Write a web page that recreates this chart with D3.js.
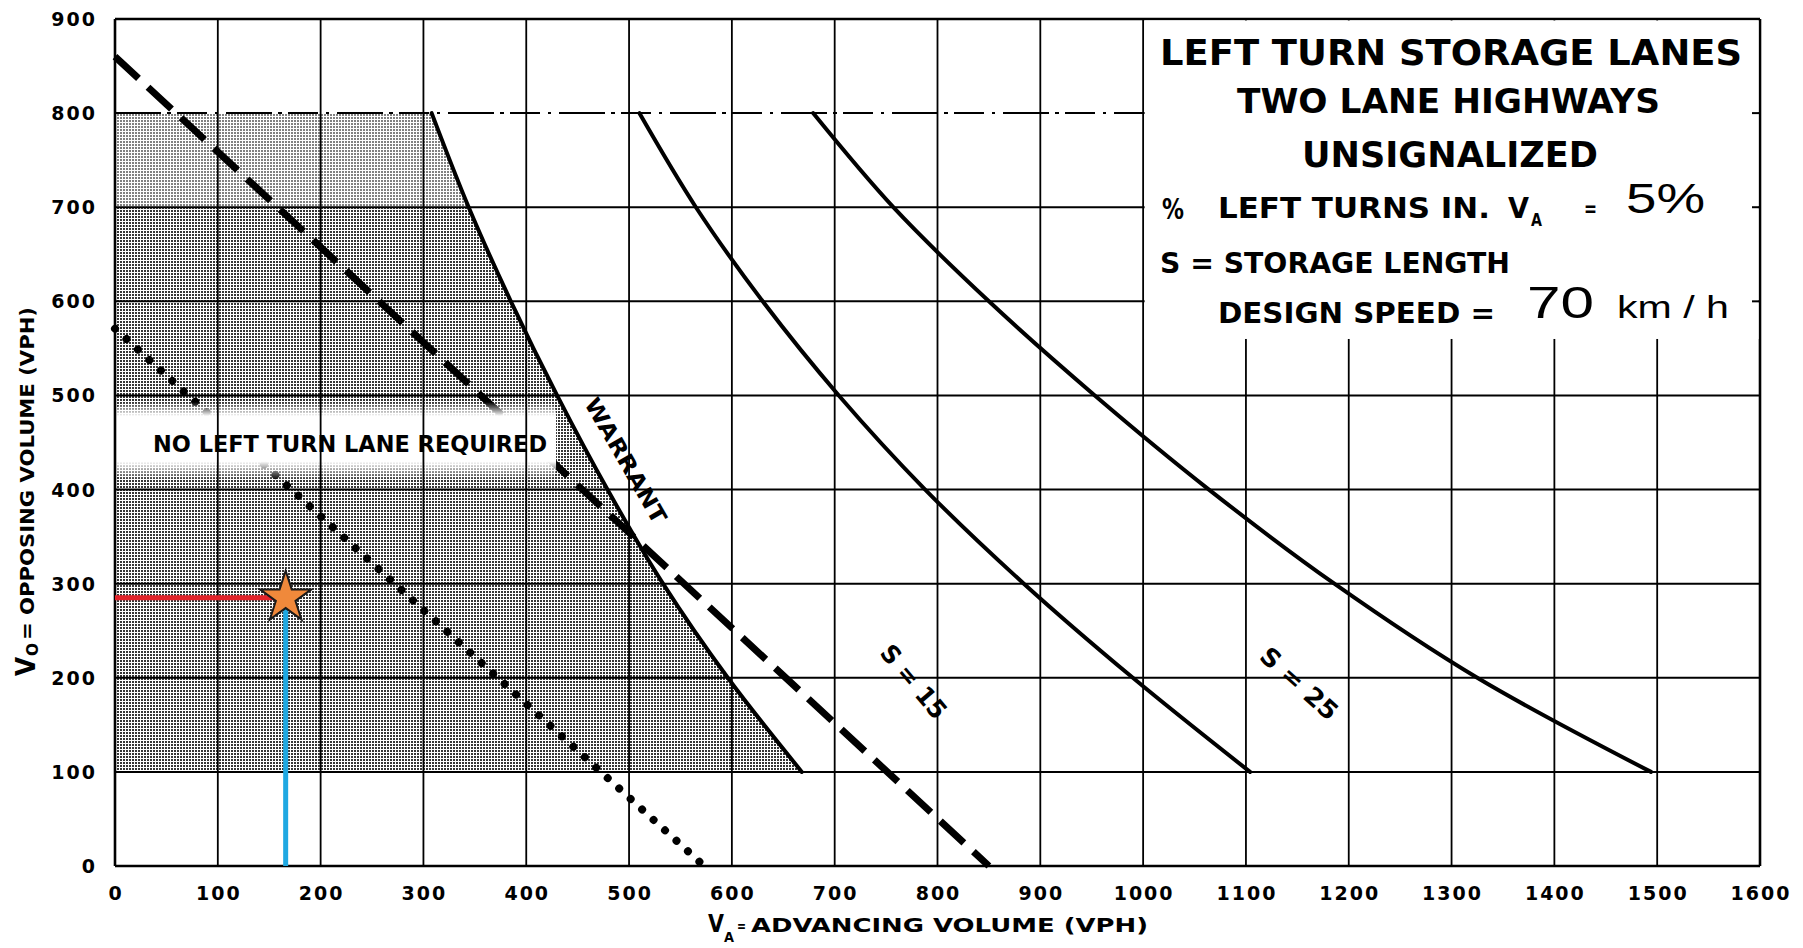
<!DOCTYPE html>
<html>
<head>
<meta charset="utf-8">
<title>Left Turn Storage Lanes – Two Lane Highways</title>
<script src="https://cdn.jsdelivr.net/npm/d3@7"></script>
<style>
  html, body { margin: 0; padding: 0; background: #fff; }
  svg { display: block; }
</style>
</head>
<body>
<svg id="chart" width="1803" height="948"></svg>
<script>
// ---- data -------------------------------------------------------------
const advancingTicks = [0, 100, 200, 300, 400, 500, 600, 700, 800, 900, 1000, 1100, 1200, 1300, 1400, 1500, 1600];
const opposingTicks  = [0, 100, 200, 300, 400, 500, 600, 700, 800, 900];

// [V_A, V_O] pairs, ordered from the top of the chart downwards
const warrantCurve   = [[308, 800], [344, 700], [385, 600], [430, 500], [479, 400], [533, 300], [596, 200], [668, 100]];
const storage15Curve = [[510, 800], [565, 700], [630, 600], [704, 500], [788, 400], [884, 300], [990, 200], [1104, 100]];
const storage25Curve = [[679, 800], [757, 700], [850, 600], [953, 500], [1064, 400], [1186, 300], [1325, 200], [1494, 100]];
const dashedGuide    = [[0, 860], [850, 0]];
const dottedGuide    = [[0, 571], [573, 0]];

const shadedRange  = [100, 800];   // V_O limits of the shaded area
const lighterRange = [700, 800];   // paler screen at the top of the shading
const clearBand    = { vaMax: 428, voLow: 410, voLowSolid: 430, voHighSolid: 478, voHigh: 493 };
const infoBox      = { vaMin: 1000, voMin: 560 };

const designPoint  = { va: 166, vo: 285 };

const titleLines   = ["LEFT TURN STORAGE LANES", "TWO LANE HIGHWAYS", "UNSIGNALIZED"];
const leftTurnPct  = "5%";
const designSpeed  = "70";

// ---- setup ------------------------------------------------------------
const svg = d3.select("#chart");
const LETTER = "'DejaVu Sans', 'Liberation Sans', sans-serif";
const PLAIN  = "'Liberation Sans', Arial, sans-serif";

const x = d3.scaleLinear().domain([0, 1600]).range([115, 1760]);
const y = d3.scaleLinear().domain([0, 900]).range([866, 19]);

svg.append("rect").attr("width", 1803).attr("height", 948).attr("fill", "#fff");

const defs = svg.append("defs");
const pat = defs.append("pattern").attr("id", "screen")
  .attr("patternUnits", "userSpaceOnUse").attr("width", 3).attr("height", 3);
pat.append("rect").attr("width", 3).attr("height", 3).attr("fill", "#fff");
pat.append("rect").attr("width", 2).attr("height", 2).attr("fill", "#363636");

// soft-edged clear strip behind the "no left turn lane" note
const bandTop = y(clearBand.voHigh), bandBot = y(clearBand.voLow);
const bandGrad = defs.append("linearGradient").attr("id", "bandFade")
  .attr("x1", 0).attr("y1", 0).attr("x2", 0).attr("y2", 1);
const stopAt = v => (y(v) - bandTop) / (bandBot - bandTop);
[[0, 0], [stopAt(clearBand.voHighSolid), 1], [stopAt(clearBand.voLowSolid), 1], [1, 0]]
  .forEach(([o, a]) => bandGrad.append("stop").attr("offset", o).attr("stop-color", "#fff").attr("stop-opacity", a));

// ---- shaded warrant region -------------------------------------------
const smooth = d3.curveCatmullRom.alpha(0.5);
const region = d3.area()
  .y(d => y(d[1]))
  .x0(x(0))
  .x1(d => x(d[0]))
  .curve(smooth);

defs.append("clipPath").attr("id", "regionClip")
  .append("path").attr("d", region(warrantCurve));

svg.append("path").attr("d", region(warrantCurve)).attr("fill", "url(#screen)");

svg.append("rect")
  .attr("clip-path", "url(#regionClip)")
  .attr("x", x(0)).attr("y", y(lighterRange[1]))
  .attr("width", x(800) - x(0)).attr("height", y(lighterRange[0]) - y(lighterRange[1]))
  .attr("fill", "#fff").attr("opacity", 0.38);

// ---- guide lines ------------------------------------------------------
const straight = d3.line().x(d => x(d[0])).y(d => y(d[1]));

svg.append("path").attr("d", straight(dashedGuide))
  .attr("fill", "none").attr("stroke", "#000").attr("stroke-width", 7)
  .attr("stroke-dasharray", "32 13");

svg.append("path").attr("d", straight(dottedGuide))
  .attr("fill", "none").attr("stroke", "#000").attr("stroke-width", 8)
  .attr("stroke-linecap", "round").attr("stroke-dasharray", "0.01 15.5");

svg.append("rect")
  .attr("x", x(0) + 1).attr("y", bandTop)
  .attr("width", x(clearBand.vaMax) - x(0)).attr("height", bandBot - bandTop)
  .attr("rx", 10)
  .attr("fill", "url(#bandFade)");

// ---- grid -------------------------------------------------------------
const grid = svg.append("g").attr("stroke", "#000").attr("fill", "none");

grid.selectAll("line.v").data(advancingTicks).join("line")
  .attr("class", "v")
  .attr("x1", d => x(d)).attr("x2", d => x(d))
  .attr("y1", y(0)).attr("y2", y(900))
  .attr("stroke-width", d => (d === 0 || d === 1600) ? 2.6 : 1.8);

grid.selectAll("line.h").data(opposingTicks).join("line")
  .attr("class", "h")
  .attr("x1", x(0)).attr("x2", x(1600))
  .attr("y1", d => y(d)).attr("y2", d => y(d))
  .attr("stroke-width", d => (d === 0 || d === 900) ? 2.6 : 2)
  .attr("stroke-dasharray", d => d === 800 ? "46 6 4 6 30 8 3 8" : null);

// ---- curves -----------------------------------------------------------
const curve = d3.line().x(d => x(d[0])).y(d => y(d[1])).curve(smooth);
[warrantCurve, storage15Curve, storage25Curve].forEach(c => {
  svg.append("path").attr("d", curve(c))
    .attr("fill", "none").attr("stroke", "#000").attr("stroke-width", 4)
    .attr("stroke-linecap", "round");
});

// ---- information box --------------------------------------------------
const bx0 = x(infoBox.vaMin), bx1 = x(1600), by0 = y(900), by1 = y(infoBox.voMin);
svg.append("rect")
  .attr("x", bx0 + 1.5).attr("y", by0 + 1.5)
  .attr("width", bx1 - bx0 - 3).attr("height", by1 - by0 - 1.5)
  .attr("fill", "#fff");
svg.selectAll("line.stub").data([600, 700, 800]).join("line")
  .attr("x1", bx1 - 8).attr("x2", bx1)
  .attr("y1", d => y(d)).attr("y2", d => y(d))
  .attr("stroke", "#000").attr("stroke-width", 2);

function put(txt, px, py, size, len, opts = {}) {
  const t = svg.append("text")
    .attr("x", px).attr("y", py)
    .attr("font-family", opts.family || LETTER)
    .attr("font-weight", opts.weight || "bold")
    .attr("font-size", size)
    .attr("fill", "#000")
    .text(txt);
  if (len) t.attr("textLength", len).attr("lengthAdjust", "spacingAndGlyphs");
  if (opts.anchor) t.attr("text-anchor", opts.anchor);
  if (opts.transform) t.attr("transform", opts.transform);
  return t;
}

put(titleLines[0], 1160, 65, 36, 582);
put(titleLines[1], 1237, 113, 34, 423);
put(titleLines[2], 1302, 167, 35, 296);

put("%", 1162, 219, 29, 22);
put("LEFT  TURNS  IN.", 1218, 218, 28, 272);
put("V", 1508, 218, 28, 21);
put("A", 1531, 226, 17, 11);
put("=", 1584, 216, 22, 13);
put(leftTurnPct, 1626, 213, 42, 79, { family: PLAIN, weight: "normal" });

put("S = STORAGE  LENGTH", 1160, 273, 28, 350);
put("DESIGN  SPEED  =", 1218, 323, 28, 277);
put(designSpeed, 1527, 318, 44, 67, { family: PLAIN, weight: "normal" });
put("km / h", 1617, 318, 32, 112, { family: PLAIN, weight: "normal" });

// ---- chart annotations ------------------------------------------------
put("NO LEFT TURN LANE REQUIRED", x(37), y(440), 23, 394);

put("WARRANT", 0, 0, 22, 141, { anchor: "middle", transform: `translate(${x(497)},${y(431)}) rotate(60)` })
  .attr("dy", "0.36em");
put("S = 15", 0, 0, 25, 88, { anchor: "middle", transform: `translate(${x(777)},${y(196)}) rotate(50)` })
  .attr("dy", "0.36em");
put("S = 25", 0, 0, 25, 95, { anchor: "middle", transform: `translate(${x(1152)},${y(194)}) rotate(42)` })
  .attr("dy", "0.36em");

// ---- tick labels ------------------------------------------------------
svg.selectAll("text.ytick").data(opposingTicks).join("text")
  .attr("class", "ytick")
  .attr("x", x(0) - 18).attr("y", d => y(d) + 7)
  .attr("text-anchor", "end")
  .attr("font-family", LETTER).attr("font-weight", "bold").attr("font-size", 19)
  .attr("letter-spacing", 2)
  .text(d => d);

svg.selectAll("text.xtick").data(advancingTicks).join("text")
  .attr("class", "xtick")
  .attr("x", d => x(d) + 1).attr("y", y(0) + 34)
  .attr("text-anchor", "middle")
  .attr("font-family", LETTER).attr("font-weight", "bold").attr("font-size", 19)
  .attr("letter-spacing", 2)
  .text(d => d);

// ---- axis titles ------------------------------------------------------
put("V", 708, 932, 25, 16);
put("A", 724, 942, 14, 10);
put("=", 737, 931, 16, 9);
put("ADVANCING  VOLUME  (VPH)", 751, 932, 19, 397);

put("V", 0, 0, 26, 19, { transform: "translate(35,676) rotate(-90)" });
put("O", 0, 0, 16, 13, { transform: "translate(38,656) rotate(-90)" });
put("= OPPOSING  VOLUME  (VPH)", 0, 0, 20, 333, { transform: "translate(34,640) rotate(-90)" });

// ---- design point -----------------------------------------------------
svg.append("line")
  .attr("x1", x(0)).attr("x2", x(designPoint.va))
  .attr("y1", y(designPoint.vo)).attr("y2", y(designPoint.vo))
  .attr("stroke", "#e3232a").attr("stroke-width", 5);
svg.append("line")
  .attr("x1", x(designPoint.va)).attr("x2", x(designPoint.va))
  .attr("y1", y(0)).attr("y2", y(designPoint.vo))
  .attr("stroke", "#1fa8e2").attr("stroke-width", 5);
svg.append("path")
  .attr("d", d3.symbol().type(d3.symbolStar).size(820)())
  .attr("transform", `translate(${x(designPoint.va)},${y(designPoint.vo)})`)
  .attr("fill", "#f0893b").attr("stroke", "#1a1a1a").attr("stroke-width", 2);
</script>
</body>
</html>
